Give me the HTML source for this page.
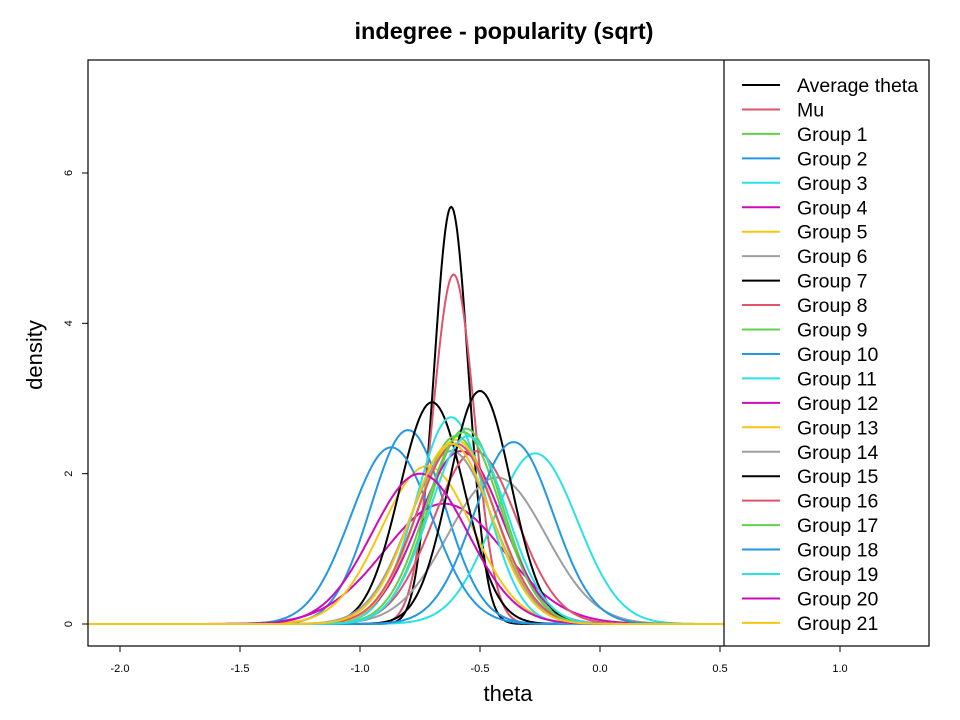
<!DOCTYPE html>
<html><head><meta charset="utf-8"><style>
body{margin:0;background:#fff;}
svg{display:block;font-family:"Liberation Sans",sans-serif;}
</style></head><body>
<svg id="s" width="960" height="720" xmlns="http://www.w3.org/2000/svg">
<rect width="960" height="720" fill="#fff"/>
<text x="504" y="39" font-size="23.5" font-weight="bold" text-anchor="middle">indegree - popularity (sqrt)</text>
<text x="508" y="701" font-size="22" text-anchor="middle">theta</text>
<text transform="translate(42,355) rotate(-90)" font-size="22" text-anchor="middle">density</text>
<defs><clipPath id="c"><rect x="88" y="60" width="636" height="586"/></clipPath></defs>
<g id="curves" clip-path="url(#c)" fill="none" stroke-width="2"></g>
<rect x="88" y="60" width="841" height="586" fill="none" stroke="#000" stroke-width="1.2"/>
<line x1="724" y1="60" x2="724" y2="646" stroke="#000" stroke-width="1.2"/>
<g stroke="#000" stroke-width="1" id="ticks"></g>
<g font-size="11" id="tl"></g>
<g id="leg" font-size="19.5"></g>
</svg>
<script>
var NS="http://www.w3.org/2000/svg";
function el(p,t,a,txt){var e=document.createElementNS(NS,t);for(var k in a)e.setAttribute(k,a[k]);if(txt!=null)e.textContent=txt;document.getElementById(p).appendChild(e);return e;}
var X=function(v){return 600+240*v}, Y=function(d){return 624-75.17*d};
[-2,-1.5,-1,-0.5,0,0.5,1].forEach(function(v){el("ticks","line",{x1:X(v),y1:646,x2:X(v),y2:652});
el("tl","text",{x:X(v),y:672,"text-anchor":"middle"},v==0?"0.0":v.toFixed(1));});
[0,2,4,6].forEach(function(d){el("ticks","line",{x1:82,y1:Y(d),x2:88,y2:Y(d)});
el("tl","text",{transform:"translate(72,"+Y(d)+") rotate(-90)","text-anchor":"middle"},d);});
var cols=["#000000","#DF536B","#61D04F","#2297E6","#28E2E5","#CD0BBC","#F5C710","#9E9E9E"];
var cur=[[5.55,-0.62],[4.65,-0.61],[2.6,-0.56],[2.58,-0.8],[2.27,-0.27],[1.6,-0.65],[2.1,-0.72],[1.95,-0.43],[2.95,-0.7],[2.3,-0.52],[2.5,-0.6],[2.35,-0.87],[2.75,-0.62],[2.3,-0.58],[2.45,-0.6],[2.3,-0.62],[3.1,-0.5],[2.4,-0.6],[2.55,-0.57],[2.42,-0.36],[2.5,-0.55],[2.0,-0.75],[2.4,-0.62]];
var names=["Average theta","Mu"];for(var i=1;i<=21;i++)names.push("Group "+i);
cur.forEach(function(c,i){var p=c[0],m=c[1],sd=1/(p*2.5066),d="";
for(var v=-2.2;v<=0.6;v+=0.005){var z=(v-m)/sd;var y=p*Math.exp(-0.5*z*z);d+=(d?"L":"M")+X(v).toFixed(1)+","+Y(y).toFixed(1);}
el("curves","path",{d:d,stroke:cols[i%8]});
var ly=85+24.45*i;
el("leg","line",{x1:742,y1:ly,x2:780,y2:ly,stroke:cols[i%8],"stroke-width":2});
el("leg","text",{x:797,y:ly+7},names[i]);});
</script>
</body></html>
